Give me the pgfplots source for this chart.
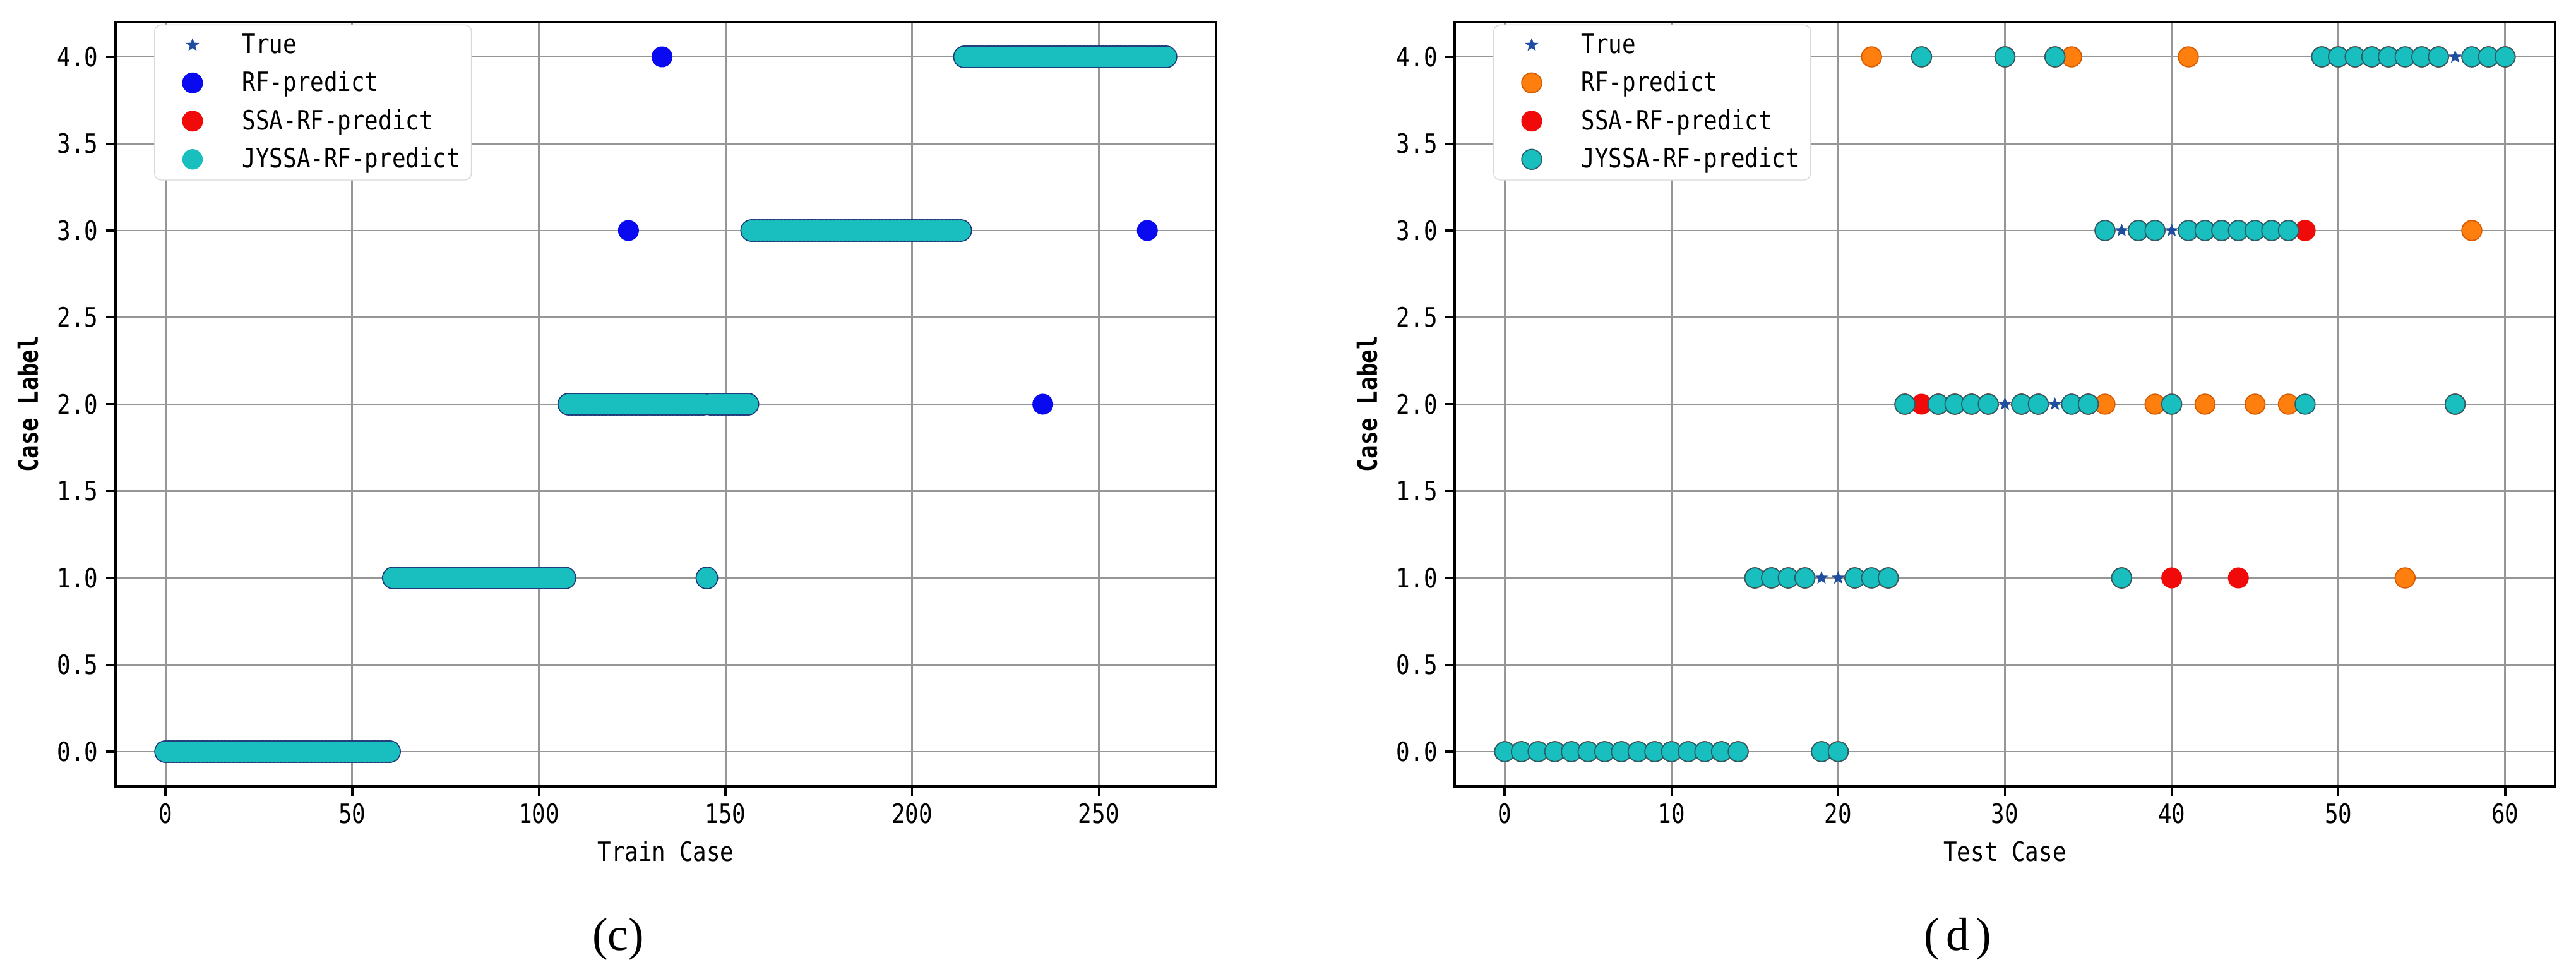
\documentclass[border=0pt]{standalone}
\usepackage{fontspec}
\setmainfont[FakeStretch=0.85]{DejaVu Sans Mono}
\newfontfamily\capfont{Liberation Serif}
\usepackage{pgfplots}
\usepackage{pgfplotstable}
\pgfplotsset{compat=1.18}

\definecolor{truec}{RGB}{31,78,160}
\definecolor{rfc}{RGB}{10,10,240}
\definecolor{rfo}{RGB}{255,127,14}
\definecolor{rfoedge}{RGB}{215,90,0}
\definecolor{ssac}{RGB}{240,10,10}
\definecolor{jyc}{RGB}{25,190,190}
\definecolor{jyedge}{RGB}{40,95,105}
\definecolor{jyedgec}{RGB}{30,55,120}
\definecolor{gridc}{RGB}{150,150,150}

% filled five-pointed star (matplotlib '*')
\pgfdeclareplotmark{fstar}{%
  \pgfpathmoveto{\pgfpointpolar{90}{\pgfplotmarksize}}%
  \pgfpathlineto{\pgfpointpolar{126}{0.42\pgfplotmarksize}}%
  \pgfpathlineto{\pgfpointpolar{162}{\pgfplotmarksize}}%
  \pgfpathlineto{\pgfpointpolar{198}{0.42\pgfplotmarksize}}%
  \pgfpathlineto{\pgfpointpolar{234}{\pgfplotmarksize}}%
  \pgfpathlineto{\pgfpointpolar{270}{0.42\pgfplotmarksize}}%
  \pgfpathlineto{\pgfpointpolar{306}{\pgfplotmarksize}}%
  \pgfpathlineto{\pgfpointpolar{342}{0.42\pgfplotmarksize}}%
  \pgfpathlineto{\pgfpointpolar{18}{\pgfplotmarksize}}%
  \pgfpathlineto{\pgfpointpolar{54}{0.42\pgfplotmarksize}}%
  \pgfpathclose
  \pgfusepathqfillstroke
}

\pgfplotsset{
  casestyle/.style={
    scale only axis, width=17.43cm, height=12.1cm,
    ymin=-0.2, ymax=4.2, ytick={0,0.5,...,4},
    grid=major, grid style={gridc, line width=0.8pt},
    axis line style={black, line width=1.2pt},
    tick align=outside, tick pos=left, major tick length=0.15cm,
    tick style={black, line width=1pt},
    font=\fontsize{12}{14}\selectfont,
    tick label style={font=\fontsize{12}{14}\selectfont},
    /pgf/number format/assume math mode=true,
    yticklabel style={/pgf/number format/.cd, fixed, fixed zerofill, precision=1},
    every axis x label/.style={at={(axis description cs:0.5,-0.0851)}, anchor=center},
    every axis y label/.style={at={(axis description cs:-0.0797,0.5)}, rotate=90, anchor=center,
      font=\bfseries\fontsize{12}{14}\selectfont},
    legend cell align=left,
    legend image code/.code={%
      \path (-0.49cm,0cm) (0.71cm,0cm);
      \draw[mark repeat=2,mark phase=2,##1] plot coordinates {(0cm,0cm) (0cm,0cm) (0cm,0cm)};},
    legend style={at={(axis description cs:0.035,0.997)}, anchor=north west,
      draw=gray!30, fill=white, rounded corners=3pt, row sep=2.6pt,
      font=\fontsize{12}{14}\selectfont},
  },
}

\pgfplotstableread[row sep=\\]{
x t rf ssa jy\\
0 0 0 0 0\\ 1 0 0 0 0\\ 2 0 0 0 0\\ 3 0 0 0 0\\ 4 0 0 0 0\\ 5 0 0 0 0\\ 6 0 0 0 0\\ 7 0 0 0 0\\ 8 0 0 0 0\\ 9 0 0 0 0\\
10 0 0 0 0\\ 11 0 0 0 0\\ 12 0 0 0 0\\ 13 0 0 0 0\\ 14 0 0 0 0\\ 15 0 0 0 0\\ 16 0 0 0 0\\ 17 0 0 0 0\\ 18 0 0 0 0\\ 19 0 0 0 0\\
20 0 0 0 0\\ 21 0 0 0 0\\ 22 0 0 0 0\\ 23 0 0 0 0\\ 24 0 0 0 0\\ 25 0 0 0 0\\ 26 0 0 0 0\\ 27 0 0 0 0\\ 28 0 0 0 0\\ 29 0 0 0 0\\
30 0 0 0 0\\ 31 0 0 0 0\\ 32 0 0 0 0\\ 33 0 0 0 0\\ 34 0 0 0 0\\ 35 0 0 0 0\\ 36 0 0 0 0\\ 37 0 0 0 0\\ 38 0 0 0 0\\ 39 0 0 0 0\\
40 0 0 0 0\\ 41 0 0 0 0\\ 42 0 0 0 0\\ 43 0 0 0 0\\ 44 0 0 0 0\\ 45 0 0 0 0\\ 46 0 0 0 0\\ 47 0 0 0 0\\ 48 0 0 0 0\\ 49 0 0 0 0\\
50 0 0 0 0\\ 51 0 0 0 0\\ 52 0 0 0 0\\ 53 0 0 0 0\\ 54 0 0 0 0\\ 55 0 0 0 0\\ 56 0 0 0 0\\ 57 0 0 0 0\\ 58 0 0 0 0\\ 59 0 0 0 0\\
60 0 0 0 0\\ 61 1 1 1 1\\ 62 1 1 1 1\\ 63 1 1 1 1\\ 64 1 1 1 1\\ 65 1 1 1 1\\ 66 1 1 1 1\\ 67 1 1 1 1\\ 68 1 1 1 1\\ 69 1 1 1 1\\
70 1 1 1 1\\ 71 1 1 1 1\\ 72 1 1 1 1\\ 73 1 1 1 1\\ 74 1 1 1 1\\ 75 1 1 1 1\\ 76 1 1 1 1\\ 77 1 1 1 1\\ 78 1 1 1 1\\ 79 1 1 1 1\\
80 1 1 1 1\\ 81 1 1 1 1\\ 82 1 1 1 1\\ 83 1 1 1 1\\ 84 1 1 1 1\\ 85 1 1 1 1\\ 86 1 1 1 1\\ 87 1 1 1 1\\ 88 1 1 1 1\\ 89 1 1 1 1\\
90 1 1 1 1\\ 91 1 1 1 1\\ 92 1 1 1 1\\ 93 1 1 1 1\\ 94 1 1 1 1\\ 95 1 1 1 1\\ 96 1 1 1 1\\ 97 1 1 1 1\\ 98 1 1 1 1\\ 99 1 1 1 1\\
100 1 1 1 1\\ 101 1 1 1 1\\ 102 1 1 1 1\\ 103 1 1 1 1\\ 104 1 1 1 1\\ 105 1 1 1 1\\ 106 1 1 1 1\\ 107 1 1 1 1\\ 108 2 2 2 2\\ 109 2 2 2 2\\
110 2 2 2 2\\ 111 2 2 2 2\\ 112 2 2 2 2\\ 113 2 2 2 2\\ 114 2 2 2 2\\ 115 2 2 2 2\\ 116 2 2 2 2\\ 117 2 2 2 2\\ 118 2 2 2 2\\ 119 2 2 2 2\\
120 2 2 2 2\\ 121 2 2 2 2\\ 122 2 2 2 2\\ 123 2 2 2 2\\ 124 2 3 2 2\\ 125 2 2 2 2\\ 126 2 2 2 2\\ 127 2 2 2 2\\ 128 2 2 2 2\\ 129 2 2 2 2\\
130 2 2 2 2\\ 131 2 2 2 2\\ 132 2 2 2 2\\ 133 2 4 2 2\\ 134 2 2 2 2\\ 135 2 2 2 2\\ 136 2 2 2 2\\ 137 2 2 2 2\\ 138 2 2 2 2\\ 139 2 2 2 2\\
140 2 2 2 2\\ 141 2 2 2 2\\ 142 2 2 2 2\\ 143 2 2 2 2\\ 144 2 2 2 2\\ 145 2 2 2 1\\ 146 2 2 2 2\\ 147 2 2 2 2\\ 148 2 2 2 2\\ 149 2 2 2 2\\
150 2 2 2 2\\ 151 2 2 2 2\\ 152 2 2 2 2\\ 153 2 2 2 2\\ 154 2 2 2 2\\ 155 2 2 2 2\\ 156 2 2 2 2\\ 157 3 3 3 3\\ 158 3 3 3 3\\ 159 3 3 3 3\\
160 3 3 3 3\\ 161 3 3 3 3\\ 162 3 3 3 3\\ 163 3 3 3 3\\ 164 3 3 3 3\\ 165 3 3 3 3\\ 166 3 3 3 3\\ 167 3 3 3 3\\ 168 3 3 3 3\\ 169 3 3 3 3\\
170 3 3 3 3\\ 171 3 3 3 3\\ 172 3 3 3 3\\ 173 3 3 3 3\\ 174 3 3 3 3\\ 175 3 3 3 3\\ 176 3 3 3 3\\ 177 3 3 3 3\\ 178 3 3 3 3\\ 179 3 3 3 3\\
180 3 3 3 3\\ 181 3 3 3 3\\ 182 3 3 3 3\\ 183 3 3 3 3\\ 184 3 3 3 3\\ 185 3 3 3 3\\ 186 3 3 3 3\\ 187 3 3 3 3\\ 188 3 3 3 3\\ 189 3 3 3 3\\
190 3 3 3 3\\ 191 3 3 3 3\\ 192 3 3 3 3\\ 193 3 3 3 3\\ 194 3 3 3 3\\ 195 3 3 3 3\\ 196 3 3 3 3\\ 197 3 3 3 3\\ 198 3 3 3 3\\ 199 3 3 3 3\\
200 3 3 3 3\\ 201 3 3 3 3\\ 202 3 3 3 3\\ 203 3 3 3 3\\ 204 3 3 3 3\\ 205 3 3 3 3\\ 206 3 3 3 3\\ 207 3 3 3 3\\ 208 3 3 3 3\\ 209 3 3 3 3\\
210 3 3 3 3\\ 211 3 3 3 3\\ 212 3 3 3 3\\ 213 3 3 3 3\\ 214 4 4 4 4\\ 215 4 4 4 4\\ 216 4 4 4 4\\ 217 4 4 4 4\\ 218 4 4 4 4\\ 219 4 4 4 4\\
220 4 4 4 4\\ 221 4 4 4 4\\ 222 4 4 4 4\\ 223 4 4 4 4\\ 224 4 4 4 4\\ 225 4 4 4 4\\ 226 4 4 4 4\\ 227 4 4 4 4\\ 228 4 4 4 4\\ 229 4 4 4 4\\
230 4 4 4 4\\ 231 4 4 4 4\\ 232 4 4 4 4\\ 233 4 4 4 4\\ 234 4 4 4 4\\ 235 4 2 4 4\\ 236 4 4 4 4\\ 237 4 4 4 4\\ 238 4 4 4 4\\ 239 4 4 4 4\\
240 4 4 4 4\\ 241 4 4 4 4\\ 242 4 4 4 4\\ 243 4 4 4 4\\ 244 4 4 4 4\\ 245 4 4 4 4\\ 246 4 4 4 4\\ 247 4 4 4 4\\ 248 4 4 4 4\\ 249 4 4 4 4\\
250 4 4 4 4\\ 251 4 4 4 4\\ 252 4 4 4 4\\ 253 4 4 4 4\\ 254 4 4 4 4\\ 255 4 4 4 4\\ 256 4 4 4 4\\ 257 4 4 4 4\\ 258 4 4 4 4\\ 259 4 4 4 4\\
260 4 4 4 4\\ 261 4 4 4 4\\ 262 4 4 4 4\\ 263 4 3 4 4\\ 264 4 4 4 4\\ 265 4 4 4 4\\ 266 4 4 4 4\\ 267 4 4 4 4\\ 268 4 4 4 4\\
}\trainc

\pgfplotstableread{
x t rf ssa jy
0 0 0 0 0
1 0 0 0 0
2 0 0 0 0
3 0 0 0 0
4 0 0 0 0
5 0 0 0 0
6 0 0 0 0
7 0 0 0 0
8 0 0 0 0
9 0 0 0 0
10 0 0 0 0
11 0 0 0 0
12 0 0 0 0
13 0 0 0 0
14 0 0 0 0
15 1 1 1 1
16 1 1 1 1
17 1 1 1 1
18 1 1 1 1
19 1 0 0 0
20 1 0 0 0
21 1 1 1 1
22 1 4 1 1
23 1 1 1 1
24 2 2 2 2
25 2 4 2 4
26 2 2 2 2
27 2 2 2 2
28 2 2 2 2
29 2 2 2 2
30 2 4 4 4
31 2 2 2 2
32 2 2 2 2
33 2 4 4 4
34 2 4 2 2
35 2 2 2 2
36 3 2 3 3
37 3 1 1 1
38 3 3 3 3
39 3 2 3 3
40 3 2 1 2
41 3 4 3 3
42 3 2 3 3
43 3 3 3 3
44 3 3 1 3
45 3 2 3 3
46 3 3 3 3
47 3 2 3 3
48 3 3 3 2
49 4 4 4 4
50 4 4 4 4
51 4 4 4 4
52 4 4 4 4
53 4 4 4 4
54 4 1 4 4
55 4 4 4 4
56 4 4 4 4
57 4 2 2 2
58 4 3 4 4
59 4 4 4 4
60 4 4 4 4
}\testc

\begin{document}
\begin{tikzpicture}
\path (0,0) rectangle (40.8cm,15.5cm);

\begin{axis}[casestyle, at={(1.83cm,3.05cm)}, anchor=south west,
  xmin=-13.4, xmax=281.4, xtick={0,50,...,250},
  xlabel={Train Case}, ylabel={Case Label}]
\addplot[only marks, mark=fstar, mark size=2.6pt, color=truec] table[x=x,y=t]{\trainc};
\addplot[only marks, mark=*, mark size=4.5pt, draw=rfc, fill=rfc] table[x=x,y=rf]{\trainc};
\addplot[only marks, mark=*, mark size=4.5pt, draw=ssac, fill=ssac] table[x=x,y=ssa]{\trainc};
% outline pass, then the fill pass on top keeps the runs smooth inside
\addplot[only marks, mark=*, mark size=4.5pt, mark options={line width=1.2pt}, draw=jyedgec, fill=jyc, forget plot] table[x=x,y=jy]{\trainc};
\addplot[only marks, mark=*, mark size=4.5pt, mark options={line width=0.2pt}, draw=jyc, fill=jyc] table[x=x,y=jy]{\trainc};
\legend{True, RF-predict, SSA-RF-predict, JYSSA-RF-predict}
\end{axis}

\begin{axis}[casestyle, at={(23.04cm,3.05cm)}, anchor=south west,
  xmin=-3, xmax=63, xtick={0,10,...,60},
  xlabel={Test Case}, ylabel={Case Label}]
\addplot[only marks, mark=fstar, mark size=2.6pt, color=truec] table[x=x,y=t]{\testc};
\addplot[only marks, mark=*, mark size=4.5pt, mark options={line width=0.5pt}, draw=rfoedge, fill=rfo] table[x=x,y=rf]{\testc};
\addplot[only marks, mark=*, mark size=4.5pt, draw=ssac, fill=ssac] table[x=x,y=ssa]{\testc};
\addplot[only marks, mark=*, mark size=4.5pt, mark options={line width=0.5pt}, draw=jyedge, fill=jyc] table[x=x,y=jy]{\testc};
\legend{True, RF-predict, SSA-RF-predict, JYSSA-RF-predict}
\end{axis}

\node[font=\capfont\fontsize{21}{24}\selectfont] at (9.79cm,0.63cm) {(c)};
\node[font=\capfont\fontsize{21}{24}\selectfont] at (31.01cm,0.63cm) {(\kern3pt d\kern3pt)};
\end{tikzpicture}
\end{document}
